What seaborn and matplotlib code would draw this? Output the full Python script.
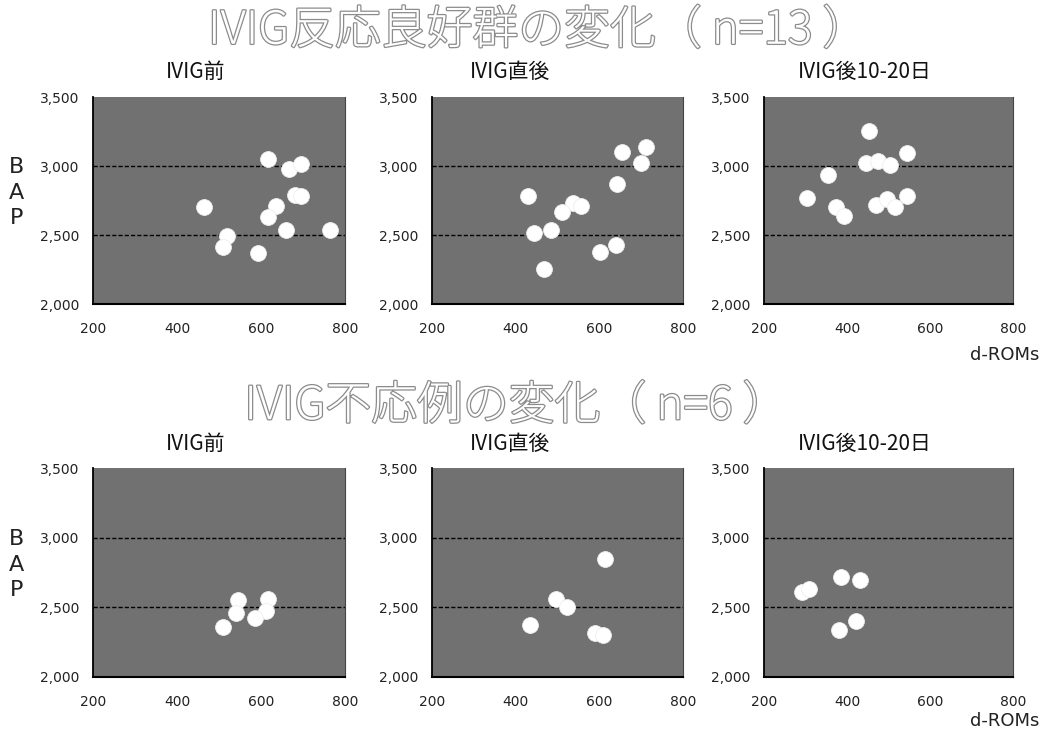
import numpy as np
import pandas as pd
import matplotlib
matplotlib.use("Agg")
import matplotlib.pyplot as plt
import matplotlib.patheffects as pe
from matplotlib.ticker import FuncFormatter
import seaborn as sns

# 値は図から読み取った推定値 (x = d-ROMs, y = BAP)
good_pre_x = [617, 667, 695, 681, 695, 464, 636, 617, 660, 764, 519, 510, 593]
good_pre_y = [3051, 2978, 3015, 2790, 2783, 2703, 2710, 2630, 2536, 2536, 2493, 2413, 2370]
good_post_x = [654, 712, 700, 643, 430, 537, 556, 511, 444, 485, 640, 602, 468]
good_post_y = [3101, 3138, 3022, 2870, 2783, 2732, 2710, 2667, 2514, 2536, 2428, 2377, 2254]
good_late_x = [453, 545, 446, 475, 504, 354, 304, 373, 393, 470, 496, 516, 545]
good_late_y = [3255, 3095, 3020, 3035, 3005, 2935, 2765, 2700, 2640, 2715, 2760, 2700, 2785]

poor_pre_x = [544, 616, 540, 611, 585, 509]
poor_pre_y = [2552, 2559, 2458, 2472, 2422, 2358]
poor_post_x = [614, 497, 523, 434, 590, 609]
poor_post_y = [2847, 2559, 2501, 2372, 2314, 2300]
poor_late_x = [292, 308, 386, 431, 422, 381]
poor_late_y = [2610, 2631, 2717, 2695, 2401, 2336]

phases = ["IVIG前", "IVIG直後", "IVIG後10-20日"]
groups = ["IVIG反応良好群の変化（ n=13 ）", "IVIG不応例の変化（ n=6 ）"]
x_ticks = [200, 400, 600, 800]
y_ticks = [2000, 2500, 3000, 3500]

panels = [
    [(good_pre_x, good_pre_y), (good_post_x, good_post_y), (good_late_x, good_late_y)],
    [(poor_pre_x, poor_pre_y), (poor_post_x, poor_post_y), (poor_late_x, poor_late_y)],
]

sns.set_style("white")
plt.rcParams["font.family"] = ["DejaVu Sans", "Noto Sans CJK JP"]
JP = ["Noto Sans CJK JP", "DejaVu Sans"]

fig = plt.figure(figsize=(10.44, 7.39), dpi=100)

# 各パネルの位置 (図の座標)
lefts = [0.0891, 0.4138, 0.7318]
widths = [0.2414, 0.2404, 0.2385]
bottoms = [0.5886, 0.0839]
heights = [0.2801, 0.2828]
title_x = [0.187, 0.489, 0.828]
group_x = [0.516, 0.495]
group_y = [0.958, 0.45]
sub_y = [0.902, 0.399]
drom_y = [0.52, 0.025]

for r in range(2):
    fig.text(group_x[r], group_y[r], groups[r], family=JP, fontsize=33,
             fontweight="light", ha="center", va="center", color="white",
             path_effects=[pe.withStroke(linewidth=1.8, foreground="#8c8c8c")])
    fig.text(0.016, bottoms[r] + heights[r] * 0.537, "B\nA\nP", fontsize=16,
             ha="center", va="center", linespacing=1.35, color="#222")
    fig.text(0.962, drom_y[r], "d-ROMs", fontsize=13,
             ha="center", va="center", color="#222")
    for c in range(3):
        ax = fig.add_axes([lefts[c], bottoms[r], widths[c], heights[r]])
        xs, ys = panels[r][c]
        df = pd.DataFrame({"d-ROMs": xs, "BAP": ys})
        ax.set_facecolor("#717171")
        for g in [2500, 3000]:
            ax.axhline(g, color="black", lw=1, ls=(0, (3, 1.5)), zorder=1)
        sns.scatterplot(data=df, x="d-ROMs", y="BAP", ax=ax, s=130,
                        color="white", edgecolor="#eeeeee", linewidth=0.6,
                        zorder=3, legend=False)
        ax.set_xlim(200, 800)
        ax.set_ylim(2000, 3500)
        ax.set_xticks(x_ticks)
        ax.set_yticks(y_ticks)
        ax.yaxis.set_major_formatter(FuncFormatter(lambda v, p: f"{int(v):,}"))
        ax.tick_params(axis="both", length=0, labelsize=10, colors="#222")
        ax.tick_params(axis="x", pad=13)
        ax.tick_params(axis="y", pad=10)
        ax.set_xlabel("")
        ax.set_ylabel("")
        ax.spines["top"].set_visible(False)
        ax.spines["left"].set_color("black")
        ax.spines["bottom"].set_color("black")
        ax.spines["left"].set_linewidth(1.3)
        ax.spines["bottom"].set_linewidth(1.5)
        ax.spines["right"].set_color("#444")
        ax.spines["right"].set_linewidth(0.8)
        fig.text(title_x[c], sub_y[r], phases[c], family=JP, fontsize=15,
                 ha="center", va="center", color="#111")

fig.savefig("out.png", dpi=100)
